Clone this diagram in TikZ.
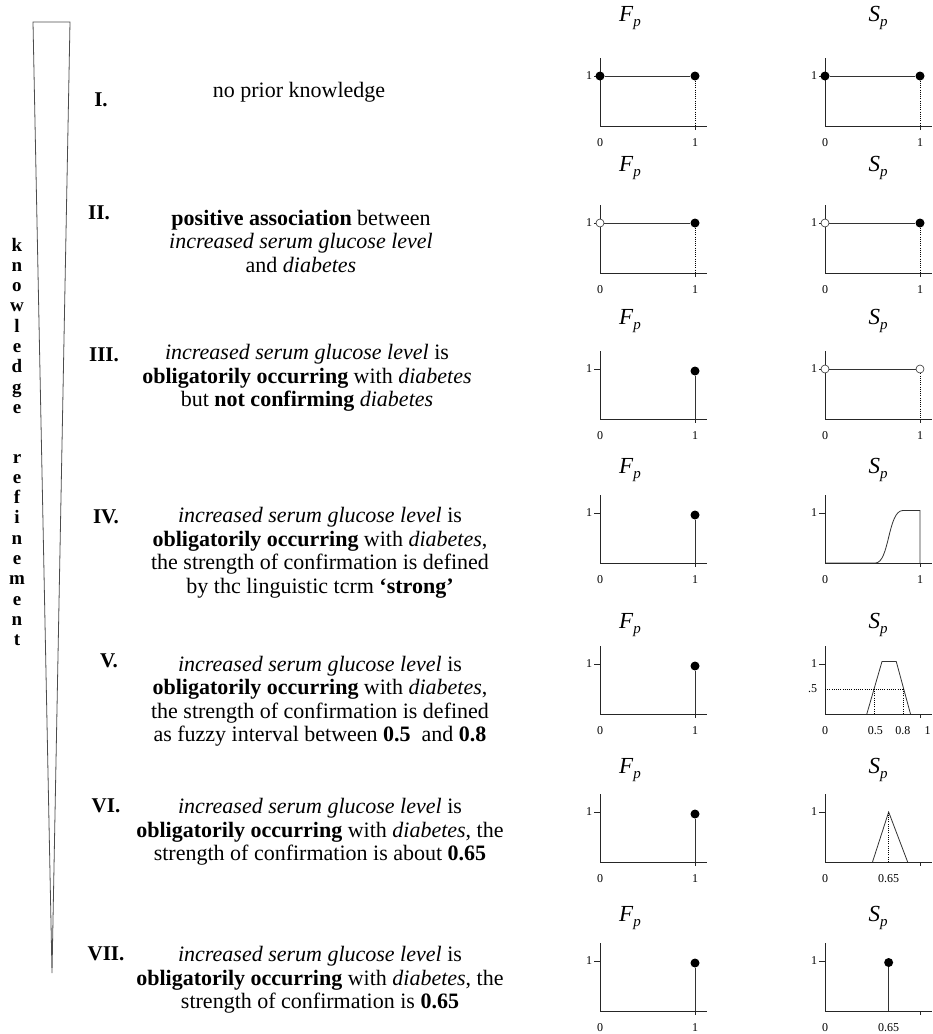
\documentclass[tikz,border=0pt]{standalone}
\usepackage{fontspec}
\setmainfont{Liberation Serif}
\usepackage{tikz}
\tikzset{
  pl/.style n args={2}{shift={(#1,#2)},x=95pt,y=50pt},
  ax/.style={draw=black!85,line width=1pt},
  fn/.style={draw=black!80,line width=0.8pt},
  dt/.style={draw=black,line width=0.8pt,dash pattern=on 1pt off 1.2pt},
  fdot/.style={circle,fill=black,inner sep=0pt,minimum size=9pt},
  odot/.style={circle,draw=black!80,fill=white,line width=0.6pt,inner sep=0pt,minimum size=8pt},
  tl/.style={font=\fontsize{12}{13}\selectfont,inner sep=0pt},
  hd/.style={font=\fontsize{23}{24}\selectfont,inner sep=0pt},
  num/.style={font=\fontsize{21}{22}\selectfont\bfseries,inner sep=0pt},
  desc/.style={align=center,font=\fontsize{22}{23.5}\selectfont,inner sep=0pt},
  ltr/.style={font=\fontsize{19}{20}\selectfont\bfseries,inner sep=0pt,anchor=base},
  wedge/.style={draw=black!70,line width=0.8pt},
}
\newcommand\subp{\raisebox{-0.5ex}{\fontsize{15}{15}\selectfont\itshape p}}

\begin{document}
\begin{tikzpicture}[x=1pt,y=-1pt]
  \useasboundingbox (0,0) rectangle (933,1034);
  % refinement wedge
  \draw[wedge] (33,22) -- (70,22) -- (52,973) -- cycle;
  \foreach \ch [count=\i] in {k,n,o,w,l,e,d,g,e}
    \node[ltr] (kw\i) at (17,{251+20.3*(\i-1)}) {\ch};
  \foreach \ch [count=\i] in {r,e,f,i,n,e,m,e,n,t}
    \node[ltr] (rf\i) at (17,{463+20.3*(\i-1)}) {\ch};

  % levels of knowledge
  \node[num] (n1) at (101,100) {I.};
  \node[num] (n2) at (99,213) {II.};
  \node[num] (n3) at (104,355) {III.};
  \node[num] (n4) at (106,517) {IV.};
  \node[num] (n5) at (109,661) {V.};
  \node[num] (n6) at (106,806) {VI.};
  \node[num] (n7) at (106,954) {VII.};

  \node[desc] (d1) at (299,92) {no prior knowledge};
  \node[desc] (d2) at (301,241) {\textbf{positive association} between\\\textit{increased serum glucose level}\\and \textit{diabetes}};
  \node[desc] (d3) at (307,378) {\textit{increased serum glucose level} is\\\textbf{obligatorily occurring} with \textit{diabetes}\\but \textbf{not confirming} \textit{diabetes}};
  \node[desc] (d4) at (320,553) {\textit{increased serum glucose level} is\\\textbf{obligatorily occurring} with \textit{diabetes},\\the strength of confirmation is defined\\by thc linguistic tcrm \textbf{`strong'}};
  \node[desc] (d5) at (320,701) {\textit{increased serum glucose level} is\\\textbf{obligatorily occurring} with \textit{diabetes},\\the strength of confirmation is defined\\as fuzzy interval between \textbf{0.5}~ and \textbf{0.8}};
  \node[desc] (d6) at (320,832) {\textit{increased serum glucose level} is\\\textbf{obligatorily occurring} with \textit{diabetes}, the\\strength of confirmation is about \textbf{0.65}};
  \node[desc] (d7) at (320,980) {\textit{increased serum glucose level} is\\\textbf{obligatorily occurring} with \textit{diabetes}, the\\strength of confirmation is \textbf{0.65}};

  % axes of all plots
  \foreach \r/\yy/\hy in {1/126/18,2/273/168,3/419/321,4/563/470,5/714/625,6/862/770,7/1011/918}{
    \foreach \c/\xx/\hl/\hx in {f/600/F/630,s/825/S/878}{
      \begin{scope}[pl={\xx}{\yy}]
        \draw[ax] (0,1.36) -- (0,0) -- (1.13,0);
        \draw[ax] (-0.06,1) -- (0,1) (1,0) -- (1,-0.08);
        \node[tl,anchor=east] (y\c\r) at (-0.08,1) {1};
        \node[tl] (x\c\r) at (0,-0.34) {0};
      \end{scope}
      \node[hd] (h\c\r) at (\hx,\hy) {\textit{\hl}\subp};
    }
    \begin{scope}[pl={600}{\yy}]
      \node[tl] (u\r) at (1,-0.34) {1};
    \end{scope}
  }
  \foreach \r/\yy in {1/126,2/273,3/419,4/563}{
    \begin{scope}[pl={825}{\yy}]
      \node[tl] (v\r) at (1,-0.34) {1};
    \end{scope}
  }

  % rows I and II
  \foreach \c/\xx in {f/600,s/825}{
    \begin{scope}[pl={\xx}{126}]
      \node[fdot] (\c a1) at (0,1) {};
      \node[fdot] (\c b1) at (1,1) {};
      \coordinate (\c c1) at (1,0);
      \draw[fn] (\c a1) -- (\c b1);
      \draw[dt] (\c b1) -- (\c c1);
    \end{scope}
    \begin{scope}[pl={\xx}{273}]
      \node[odot] (\c a2) at (0,1) {};
      \node[fdot] (\c b2) at (1,1) {};
      \coordinate (\c c2) at (1,0);
      \draw[fn] (\c a2) -- (\c b2);
      \draw[dt] (\c b2) -- (\c c2);
    \end{scope}
  }

  % F_p from row III on
  \foreach \r/\yy in {3/419,4/563,5/714,6/862,7/1011}{
    \begin{scope}[pl={600}{\yy}]
      \node[fdot] (fb\r) at (1,0.96) {};
      \coordinate (fc\r) at (1,0);
      \draw[fn] (fc\r) -- (fb\r);
    \end{scope}
  }

  % S_p row III
  \begin{scope}[pl={825}{419}]
    \node[odot] (sa3) at (0,1) {};
    \node[odot] (sb3) at (1,1) {};
    \coordinate (sc3) at (1,0);
    \draw[fn] (sa3) -- (sb3);
    \draw[dt] (sb3) -- (sc3);
  \end{scope}

  % S_p row IV: strong
  \begin{scope}[pl={825}{563}]
    \draw[fn] (0,0) -- (0.53,0) .. controls (0.68,0) and (0.66,1.05) .. (0.82,1.05) -- (1,1.05) -- (1,0);
  \end{scope}

  % S_p row V: fuzzy interval
  \begin{scope}[pl={825}{714}]
    \draw[fn] (0.44,0) -- (0.6,1.05) -- (0.75,1.05) -- (0.9,0);
    \draw[dt] (0,0.5) -- (0.83,0.5);
    \draw[dt] (0.52,0) -- (0.52,0.5);
    \draw[dt] (0.83,0) -- (0.83,0.5);
    \node[tl,anchor=east] (yh5) at (-0.08,0.5) {.5};
    \node[tl] (v5a) at (0.53,-0.34) {0.5};
    \node[tl] (v5b) at (0.82,-0.34) {0.8};
    \node[tl] (v5) at (1.08,-0.34) {1};
  \end{scope}

  % S_p row VI: about 0.65
  \begin{scope}[pl={825}{862}]
    \draw[fn] (0.5,0) -- (0.67,1) -- (0.87,0);
    \draw[dt] (0.67,0) -- (0.67,1);
    \node[tl] (v6) at (0.67,-0.34) {0.65};
  \end{scope}

  % S_p row VII: exactly 0.65
  \begin{scope}[pl={825}{1011}]
    \node[fdot] (sb7) at (0.67,0.97) {};
    \coordinate (sc7) at (0.67,0);
    \draw[fn] (sc7) -- (sb7);
    \node[tl] (v7) at (0.67,-0.34) {0.65};
  \end{scope}
\end{tikzpicture}
\end{document}
